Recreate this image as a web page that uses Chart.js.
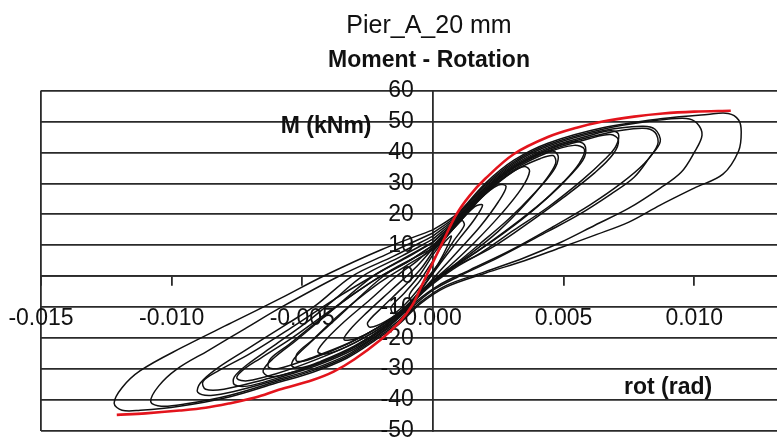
<!DOCTYPE html>
<html>
<head>
<meta charset="utf-8">
<script src="https://cdn.jsdelivr.net/npm/chart.js@4.4.1/dist/chart.umd.min.js"></script>
<style>
  html, body { margin: 0; padding: 0; background: #fff; overflow: hidden; }
  #wrap { width: 817px; height: 450px; }
</style>
</head>
<body>
<div id="wrap"><canvas id="graph" width="817" height="450"></canvas></div>
<script>
// texts
var chartTitle = 'Pier_A_20 mm';
var chartSubtitle = 'Moment - Rotation';
var xTitle = 'rot (rad)';
var yTitle = 'M (kNm)';

// ticks
var rotTicks = [-0.015, -0.010, -0.005, 0, 0.005, 0.010];
var rotTickLabels = ['-0.015', '-0.010', '-0.005', '0.000', '0.005', '0.010'];
var momentTicks = [-50, -40, -30, -20, -10, 0, 10, 20, 30, 40, 50, 60];
var momentTickLabels = ['-50', '-40', '-30', '-20', '-10', '0', '10', '20', '30', '40', '50', '60'];

// red backbone curve [rot, M]
var envelope = [
  [-0.0121, -44.8], [-0.0110, -44.3], [-0.0097, -43.4], [-0.0087, -42.5], [-0.0078, -41.1],
  [-0.0068, -39.2], [-0.0059, -36.7], [-0.0046, -33.5], [-0.0038, -30.8], [-0.0030, -26.8],
  [-0.0020, -20.5], [-0.0013, -15], [-0.0008, -9.5], [-0.0004, -2.5], [0, 4.5],
  [0.0004, 11.5], [0.0009, 20], [0.0014, 26], [0.0020, 31.5], [0.0031, 39.5],
  [0.0044, 45], [0.0055, 48], [0.0065, 50], [0.0077, 51.6], [0.0088, 52.6],
  [0.0100, 53.2], [0.0114, 53.5]
];

// hysteresis cycles [rot, M]
var cycle1 = [
  [0, 15], [0.0009, 20], [0.002, 30], [0.0031, 37.5], [0.0044, 43], [0.0065, 48], [0.0088, 51],
  [0.0105, 52.3], [0.0113, 52.6], [0.0117, 50.5], [0.0118, 46.6], [0.0117, 40.5], [0.0111, 33], [0.0100, 28.5],
  [0.0087, 23], [0.0075, 17.5], [0.0062, 13.3], [0.0049, 9.3], [0.0035, 5], [0.0020, 1], [0.0005, -3.5],
  [-0.0005, -9], [-0.0013, -15.5], [-0.0020, -19.5], [-0.0033, -26.5], [-0.0046, -31], [-0.0060, -34.5],
  [-0.0078, -39], [-0.0097, -42], [-0.0112, -43.3], [-0.0119, -43.3], [-0.0122, -41], [-0.0119, -36],
  [-0.0112, -30.5], [-0.0096, -23], [-0.0077, -15], [-0.0058, -7], [-0.0042, 0], [-0.0020, 8.5], [0, 15]
];
var cycle2 = [
  [0, 14], [0.0009, 19.5], [0.002, 29.5], [0.0031, 37], [0.0044, 42.5], [0.0065, 47.5], [0.0085, 50.3],
  [0.0097, 51], [0.0101, 49.5], [0.0103, 45.6], [0.0100, 40], [0.0095, 33.6], [0.0087, 28.5], [0.0075, 22],
  [0.0062, 16.5], [0.0049, 11], [0.0035, 6], [0.0020, 1.5], [0.0005, -3], [-0.0005, -8.5], [-0.0013, -15],
  [-0.0020, -19], [-0.0033, -26], [-0.0046, -30.5], [-0.0060, -34], [-0.0078, -38.5], [-0.0095, -41.3],
  [-0.0104, -42], [-0.0108, -40.5], [-0.0105, -35.5], [-0.0098, -30], [-0.0086, -24], [-0.0072, -17],
  [-0.0058, -10], [-0.0036, 0], [-0.0018, 7], [0, 14]
];
var cycle3 = [
  [0, 13], [0.0009, 19], [0.002, 29], [0.0031, 36.5], [0.0044, 42], [0.0065, 47], [0.0080, 48.5],
  [0.0085, 47.5], [0.0087, 43.5], [0.0083, 38.5], [0.0077, 32], [0.0068, 26.5], [0.0056, 20], [0.0044, 14.5],
  [0.0025, 6], [0.0010, 0], [0, -4.5], [-0.0008, -10], [-0.0014, -15], [-0.0020, -18.5], [-0.0033, -25.5],
  [-0.0046, -30], [-0.0060, -33.5], [-0.0075, -37], [-0.0085, -38.5], [-0.0090, -37.5], [-0.0089, -34.5],
  [-0.0083, -30], [-0.0072, -24], [-0.0057, -16], [-0.0045, -9.5], [-0.0031, 0], [-0.0015, 6.5], [0, 13]
];
var cycle3b = [
  [0, 11], [0.0009, 18], [0.002, 28], [0.0031, 35.5], [0.0044, 41], [0.0065, 46], [0.0080, 47.8],
  [0.0085, 46.5], [0.0086, 42.5], [0.0081, 36.5], [0.0072, 30], [0.0060, 23], [0.0046, 16], [0.0030, 8.5],
  [0.0014, 2], [0.0002, -3], [-0.0007, -8.5], [-0.0014, -14], [-0.0022, -18.5], [-0.0035, -25], [-0.0050, -30],
  [-0.0065, -33.5], [-0.0080, -36.5], [-0.0087, -36.5], [-0.0088, -34], [-0.0082, -30.5], [-0.0070, -25],
  [-0.0054, -16.5], [-0.0035, -6], [-0.0017, 3], [0, 11]
];
var cycle4 = [
  [0, 12], [0.0009, 18.5], [0.002, 28.5], [0.0031, 36], [0.0044, 41.5], [0.0060, 45.5], [0.0068, 47],
  [0.0071, 46], [0.0070, 42], [0.0066, 38], [0.0057, 31], [0.0044, 22.3], [0.0031, 14.9], [0.0018, 7.4],
  [0.0005, 1.5], [-0.0004, -5], [-0.0010, -11], [-0.0018, -17], [-0.0030, -23.5], [-0.0045, -29],
  [-0.0060, -33], [-0.0071, -35.5], [-0.0076, -35], [-0.0076, -32.5], [-0.0071, -28.5], [-0.0061, -22.5],
  [-0.0047, -14], [-0.0037, -7], [-0.0027, 0], [-0.0012, 6.5], [0, 12]
];
var cycle4b = [
  [0, 10], [0.0009, 17.5], [0.002, 27.5], [0.0031, 35], [0.0044, 40.5], [0.0060, 44.5], [0.0068, 45.8],
  [0.0071, 44], [0.0069, 39.5], [0.0062, 33.5], [0.0050, 25.5], [0.0037, 17.5], [0.0024, 10], [0.0010, 3.5],
  [0, -2.5], [-0.0008, -8.5], [-0.0016, -14.5], [-0.0030, -21.5], [-0.0045, -27], [-0.0060, -31.5],
  [-0.0071, -33.8], [-0.0075, -33], [-0.0073, -30.5], [-0.0066, -26.5], [-0.0054, -20], [-0.0040, -11.5],
  [-0.0022, -1], [-0.0010, 4.5], [0, 10]
];
var cycle5 = [
  [0, 11], [0.0009, 18], [0.002, 28], [0.0031, 35.5], [0.0044, 41], [0.0054, 43.5], [0.0058, 42.5],
  [0.0058, 38.5], [0.0053, 33], [0.0044, 25.5], [0.0033, 18], [0.0021, 10.5], [0.0009, 3.5], [-0.0002, -3.5],
  [-0.0010, -10.5], [-0.0018, -16.5], [-0.0030, -23], [-0.0045, -28.5], [-0.0058, -32], [-0.0063, -32.3],
  [-0.0065, -30.5], [-0.0061, -26.5], [-0.0052, -20.5], [-0.0040, -12], [-0.0023, 0], [-0.0010, 6], [0, 11]
];
var cycle5b = [
  [0, 9], [0.0009, 17], [0.002, 27], [0.0031, 34.5], [0.0044, 40], [0.0054, 42.3], [0.0058, 41],
  [0.0056, 36.5], [0.0050, 30.5], [0.0040, 22.5], [0.0028, 14.5], [0.0016, 7.5], [0.0005, 1.5], [-0.0004, -4.5],
  [-0.0011, -10.5], [-0.0020, -16], [-0.0032, -21.5], [-0.0047, -26.5], [-0.0059, -29.8], [-0.0063, -29.3],
  [-0.0062, -26.5], [-0.0055, -22], [-0.0044, -14.5], [-0.0030, -5.5], [-0.0016, 2], [0, 9]
];
var cycle6 = [
  [0, 10], [0.0009, 17.5], [0.002, 27.5], [0.0031, 35], [0.0041, 39.5], [0.0046, 40.5], [0.0048, 38.5],
  [0.0046, 34], [0.0039, 27], [0.0029, 18.5], [0.0018, 10.5], [0.0008, 3.5], [-0.0002, -3], [-0.0010, -10],
  [-0.0018, -16], [-0.0030, -22.5], [-0.0043, -27.5], [-0.0050, -29.5], [-0.0054, -29], [-0.0053, -26.5],
  [-0.0047, -21.5], [-0.0036, -13], [-0.0019, 0], [-0.0008, 5.5], [0, 10]
];
var cycle6b = [
  [0, 8.5], [0.0009, 16.5], [0.002, 26.5], [0.0031, 34], [0.0041, 38], [0.0046, 39], [0.0047, 36.5],
  [0.0043, 31], [0.0035, 23], [0.0025, 14.5], [0.0014, 7], [0.0004, 1], [-0.0005, -5.5], [-0.0012, -11.5],
  [-0.0021, -16.5], [-0.0033, -22], [-0.0046, -26.5], [-0.0052, -27.5], [-0.0052, -25], [-0.0046, -20.5],
  [-0.0036, -12.5], [-0.0022, -3], [-0.0010, 3.5], [0, 8.5]
];
var cycle7 = [
  [0, 9.5], [0.0009, 17], [0.002, 27], [0.0030, 33.5], [0.0035, 35.5], [0.0037, 34], [0.0034, 28.5],
  [0.0026, 20], [0.0016, 11], [0.0006, 3], [-0.0003, -3.5], [-0.0010, -9.5], [-0.0018, -15.5],
  [-0.0030, -21.5], [-0.0040, -25], [-0.0044, -24.5], [-0.0042, -21.5], [-0.0035, -15.5], [-0.0024, -7.5],
  [-0.0014, 0], [-0.0006, 5], [0, 9.5]
];
var cycle8 = [
  [0, 9], [0.0009, 16.5], [0.0018, 25], [0.0025, 29.5], [0.0028, 29], [0.0025, 24], [0.0018, 16],
  [0.0010, 8.5], [0.0003, 2], [-0.0004, -4.5], [-0.0012, -11], [-0.0020, -16], [-0.0029, -20], [-0.0034, -20.5],
  [-0.0032, -17.5], [-0.0025, -11.5], [-0.0016, -4.5], [-0.0007, 2.5], [0, 9]
];
var cycle9 = [
  [0, 8], [0.0008, 15.5], [0.0016, 22.5], [0.0019, 23], [0.0016, 18.5], [0.0010, 12], [0.0004, 5.5],
  [-0.0003, -2.5], [-0.0010, -9.5], [-0.0018, -14.5], [-0.0024, -16.5], [-0.0025, -15], [-0.0020, -10.5],
  [-0.0012, -4], [-0.0005, 2], [0, 8]
];
var cycle10 = [
  [0, 7], [0.0006, 13.5], [0.0011, 18], [0.0012, 16.5], [0.0008, 11.5], [0.0003, 5], [-0.0004, -2.5],
  [-0.0010, -8.5], [-0.0015, -12], [-0.0016, -10], [-0.0011, -5.5], [-0.0005, 0.5], [0, 7]
];
var cycle11 = [
  [0, 5], [0.0004, 10.5], [0.0007, 13], [0.0006, 10.5], [0.0002, 4], [-0.0003, -2.5], [-0.0008, -8],
  [-0.0009, -6], [-0.0005, -1.5], [0, 5]
];

var cycles = [cycle1, cycle2, cycle3, cycle3b, cycle4, cycle4b, cycle5, cycle5b,
              cycle6, cycle6b, cycle7, cycle8, cycle9, cycle10, cycle11];

var FONT = '"Liberation Sans", Arial, Helvetica, sans-serif';

function toPoints(list) {
    return list.map(function (p) { return {x: p[0], y: p[1]}; });
}

// first dataset is painted last (on top), so the red curve goes first
var datasets = [{
    data: toPoints(envelope),
    showLine: true,
    borderColor: '#e3141c',
    borderWidth: 2.6,
    pointRadius: 0,
    tension: 0.35
}];
cycles.forEach(function (c) {
    datasets.push({
        data: toPoints(c),
        showLine: true,
        borderColor: '#111',
        borderWidth: 1.5,
        pointRadius: 0,
        tension: 0.35
    });
});

// axis names sit inside the plot, like the spreadsheet original
var axisNames = {
    id: 'axisNames',
    afterDatasetsDraw(chart) {
        var ctx = chart.ctx, x = chart.scales.x, y = chart.scales.y;
        ctx.save();
        ctx.font = 'bold 23px ' + FONT;
        ctx.fillStyle = '#111';
        ctx.textBaseline = 'middle';
        ctx.textAlign = 'right';
        ctx.fillText(yTitle, x.getPixelForValue(-0.00235), y.getPixelForValue(48.2));
        ctx.textAlign = 'center';
        ctx.fillText(xTitle, x.getPixelForValue(0.009), y.getPixelForValue(-36));
        ctx.restore();
    }
};

var context = document.querySelector('#graph').getContext('2d');

var chart = new Chart(context, {
    type: 'scatter',
    data: {datasets: datasets},
    options: {
        responsive: false,
        animation: false,
        events: [],
        layout: {padding: {top: 0, left: 41, right: 0, bottom: 19}},
        plugins: {
            legend: {display: false},
            tooltip: {enabled: false},
            title: {
                display: true,
                text: chartTitle,
                color: '#111',
                font: {family: FONT, size: 25, weight: 'normal', lineHeight: 1.2},
                padding: {top: 11, bottom: 0}
            },
            subtitle: {
                display: true,
                text: chartSubtitle,
                color: '#111',
                font: {family: FONT, size: 23, weight: 'bold', lineHeight: 1.2},
                padding: {top: 6, bottom: 16}
            }
        },
        scales: {
            x: {
                type: 'linear',
                min: -0.015,
                max: 0.0147,
                position: {y: 0},
                afterBuildTicks: function (s) {
                    s.ticks = rotTicks.map(function (v) { return {value: v}; });
                },
                ticks: {
                    callback: function (v, i) { return rotTickLabels[i]; },
                    autoSkip: false,
                    maxRotation: 0,
                    padding: 4,
                    color: '#111',
                    font: {family: FONT, size: 23, lineHeight: 2.55}
                },
                grid: {
                    color: function (c) { return c.index === 0 ? '#2a2a2a' : 'rgba(0,0,0,0)'; },
                    lineWidth: 1.8,
                    tickLength: 9,
                    tickColor: '#2a2a2a',
                    tickWidth: 1.8
                },
                border: {display: true, color: '#2a2a2a', width: 1.8}
            },
            y: {
                type: 'linear',
                min: -50,
                max: 60,
                position: {x: 0},
                afterBuildTicks: function (s) {
                    s.ticks = momentTicks.map(function (v) { return {value: v}; });
                },
                ticks: {
                    callback: function (v, i) { return momentTickLabels[i] + '   '; },
                    padding: 0,
                    color: '#111',
                    font: {family: FONT, size: 23, lineHeight: 1}
                },
                grid: {color: '#2a2a2a', lineWidth: 1.8, drawTicks: false},
                border: {display: true, color: '#2a2a2a', width: 1.8}
            }
        }
    },
    plugins: [axisNames]
});
</script>
</body>
</html>
